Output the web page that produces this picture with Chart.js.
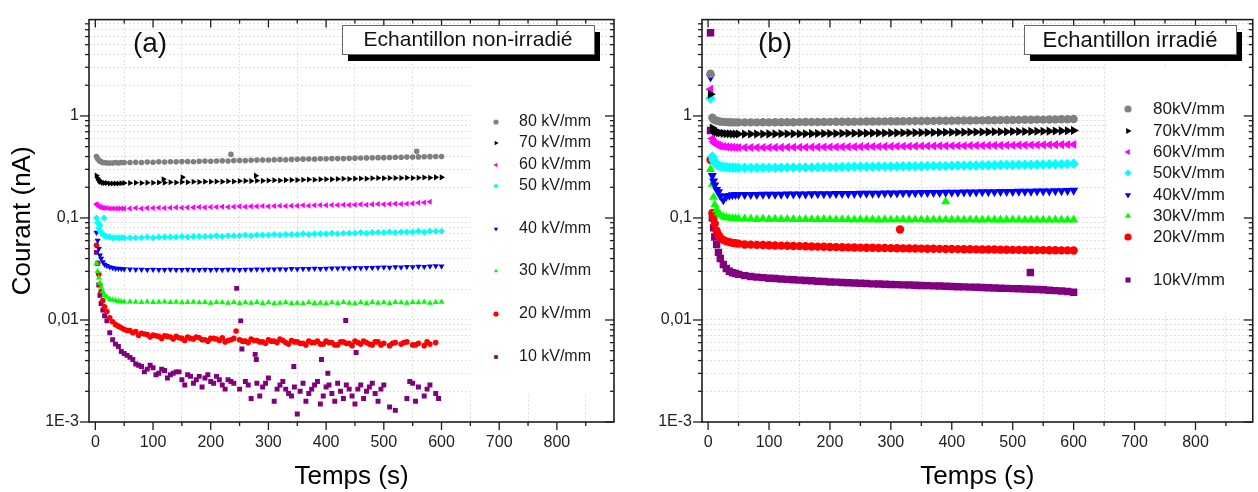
<!DOCTYPE html>
<html>
<head>
<meta charset="utf-8">
<script src="https://cdn.jsdelivr.net/npm/chart.js@4.4.1/dist/chart.umd.min.js"></script>
<style>
  html, body { margin: 0; padding: 0; background: #fff; }
  #wrap { position: relative; width: 1258px; height: 492px; overflow: hidden; }
  .panel { position: absolute; top: 0; width: 629px; height: 492px; }
</style>
</head>
<body>
<div id="wrap">
  <div class="panel" style="left:0"><canvas id="chartA" width="629" height="492"></canvas></div>
  <div class="panel" style="left:629px"><canvas id="chartB" width="629" height="492"></canvas></div>
</div>
<script>
// ---- Data ------------------------------------------------
const X_TICKS = [0, 50, 100, 150, 200, 250, 300, 350, 400, 450, 500, 550, 600, 650, 700, 750, 800, 850];
const Y_TICKS = [0.001, 0.002, 0.003, 0.004, 0.005, 0.006, 0.007, 0.008, 0.009,
  0.01, 0.02, 0.03, 0.04, 0.05, 0.06, 0.07, 0.08, 0.09,
  0.1, 0.2, 0.3, 0.4, 0.5, 0.6, 0.7, 0.8, 0.9, 1, 2, 3, 4, 5, 6, 7, 8];
const Y_MAJOR = [0.001, 0.01, 0.1, 1];
const Y_MAJOR_LABELS = ['1E-3', '0,01', '0,1', '1'];

const LABELS_A = ['80 kV/mm', '70 kV/mm', '60 kV/mm', '50 kV/mm', '40 kV/mm', '30 kV/mm', '20 kV/mm', '10 kV/mm'];
const LABELS_B = ['80kV/mm', '70kV/mm', '60kV/mm', '50kV/mm', '40kV/mm', '30kV/mm', '20kV/mm', '10kV/mm'];

// time (s) of the sampled points, non-irradiated sample
const TIME_A = [2, 4, 6, 8, 10, 13, 16, 20, 25, 30, 35, 40, 45, 50,
  60, 70, 80, 90, 100, 110, 120, 130, 140, 150, 160, 170, 180, 190, 200, 210, 220, 230, 240, 250,
  260, 270, 280, 290, 300, 310, 320, 330, 340, 350, 360, 370, 380, 390, 400, 410, 420, 430, 440, 450,
  460, 470, 480, 490, 500, 510, 520, 530, 540, 550, 560, 570, 580, 590, 600];

const A80 = [0.40, 0.38, 0.37, 0.36, 0.355, 0.35, 0.35, 0.345, 0.345, 0.345, 0.35, 0.345, 0.35, 0.35,
  0.35, 0.352, 0.35, 0.353, 0.352, 0.355, 0.353, 0.356, 0.355, 0.357,
  0.358, 0.356, 0.36, 0.361, 0.36, 0.362, 0.363, 0.362, 0.365, 0.366,
  0.365, 0.368, 0.369, 0.37, 0.37, 0.372, 0.373, 0.372, 0.375, 0.376,
  0.377, 0.378, 0.377, 0.38, 0.381, 0.382, 0.383, 0.382, 0.385, 0.386,
  0.387, 0.388, 0.389, 0.39, 0.39, 0.392, 0.393, 0.394, 0.395, 0.396,
  0.397, 0.398, 0.399, 0.40, 0.40];
const A70 = [0.26, 0.245, 0.235, 0.228, 0.225, 0.222, 0.22, 0.22, 0.218, 0.218, 0.218, 0.218, 0.219, 0.22,
  0.22, 0.221, 0.22, 0.222, 0.221, 0.223, 0.222, 0.224, 0.223, 0.225,
  0.224, 0.226, 0.225, 0.227, 0.226, 0.228, 0.227, 0.229, 0.228, 0.23,
  0.231, 0.23, 0.232, 0.231, 0.233, 0.234, 0.233, 0.235, 0.236, 0.235,
  0.237, 0.238, 0.237, 0.239, 0.24, 0.239, 0.241, 0.242, 0.241, 0.243,
  0.244, 0.243, 0.245, 0.246, 0.245, 0.246, 0.247, 0.246, 0.248, 0.247,
  0.248, 0.249, 0.248, 0.25, 0.25];
const A60 = [0.137, 0.133, 0.13, 0.128, 0.127, 0.126, 0.125, 0.125, 0.124, 0.124, 0.124, 0.124, 0.124, 0.124,
  0.124, 0.125, 0.124, 0.125, 0.125, 0.126, 0.125, 0.126, 0.127, 0.126,
  0.127, 0.127, 0.128, 0.127, 0.128, 0.128, 0.129, 0.128, 0.129, 0.13,
  0.129, 0.13, 0.13, 0.131, 0.13, 0.131, 0.132, 0.131, 0.132, 0.132,
  0.133, 0.132, 0.133, 0.134, 0.133, 0.134, 0.134, 0.135, 0.134, 0.135,
  0.136, 0.135, 0.136, 0.137, 0.136, 0.137, 0.138, 0.137, 0.138, 0.139,
  0.141, 0.142, 0.144, null, null];
const A50 = [0.1, 0.09, 0.08, 0.075, 0.072, 0.069, 0.067, 0.066, 0.065, 0.064, 0.064, 0.064, 0.064, 0.064,
  0.064, 0.064, 0.064, 0.065, 0.064, 0.065, 0.065, 0.065, 0.065, 0.066,
  0.065, 0.066, 0.066, 0.066, 0.066, 0.067, 0.066, 0.067, 0.067, 0.067,
  0.068, 0.067, 0.068, 0.068, 0.068, 0.069, 0.068, 0.069, 0.069, 0.069,
  0.07, 0.069, 0.07, 0.07, 0.07, 0.071, 0.07, 0.071, 0.071, 0.071,
  0.072, 0.071, 0.072, 0.072, 0.072, 0.073, 0.072, 0.073, 0.073, 0.073,
  0.074, 0.073, 0.074, 0.074, 0.074];
const A40 = [0.072, 0.06, 0.05, 0.043, 0.04, 0.037, 0.035, 0.034, 0.033, 0.0325, 0.032, 0.032, 0.0318, 0.0316,
  0.0315, 0.0312, 0.0313, 0.031, 0.0312, 0.0311, 0.031, 0.0312, 0.0311, 0.031,
  0.0312, 0.031, 0.0311, 0.0312, 0.031, 0.0312, 0.0311, 0.0313, 0.0312, 0.0311,
  0.0313, 0.0312, 0.0314, 0.0313, 0.0315, 0.0314, 0.0316, 0.0315, 0.0317, 0.0316,
  0.0318, 0.0317, 0.0319, 0.0318, 0.032, 0.0322, 0.0321, 0.0323, 0.0322, 0.0325,
  0.0324, 0.0326, 0.0325, 0.0327, 0.0328, 0.0327, 0.033, 0.0329, 0.0332, 0.0331,
  0.0335, 0.0333, 0.0336, 0.0338, 0.0336];
const A30 = [0.036, 0.03, 0.026, 0.023, 0.021, 0.019, 0.0175, 0.0168, 0.016, 0.0157, 0.0155, 0.0153, 0.0152, 0.0151,
  0.0151, 0.015, 0.0149, 0.0151, 0.0149, 0.015, 0.0151, 0.0149, 0.015, 0.0148,
  0.0149, 0.015, 0.0148, 0.0149, 0.0147, 0.0149, 0.0148, 0.0147, 0.0149, 0.0146,
  0.0148, 0.0147, 0.0149, 0.0146, 0.0148, 0.0145, 0.0147, 0.0148, 0.0146, 0.0147,
  0.0145, 0.0148, 0.0146, 0.0147, 0.0145, 0.0148, 0.0146, 0.0149, 0.0147, 0.0145,
  0.0148, 0.0146, 0.0149, 0.0147, 0.0148, 0.0146, 0.0149, 0.0148, 0.0147, 0.0149,
  0.0148, 0.015, 0.0147, 0.0149, 0.015];
const A20 = [0.054, 0.036, 0.028, 0.022, 0.019, 0.0155, 0.0135, 0.0121, 0.0105, 0.0096, 0.009, 0.0087, 0.0084, 0.0081,
  0.0079, 0.0077, 0.0074, 0.0072, 0.0071, 0.0069, 0.007, 0.0068, 0.0069, 0.0066,
  0.0068, 0.0065, 0.0067, 0.0064, 0.0066, 0.0065, 0.0067, 0.0063, 0.0066, 0.0064,
  0.0062, 0.0065, 0.0063, 0.0061, 0.0064, 0.0062, 0.0065, 0.006, 0.0063, 0.0061,
  0.0059, 0.0062, 0.006, 0.0058, 0.0062, 0.006, 0.0057, 0.0061, 0.0059, 0.0062,
  0.0058, 0.006, 0.0057, 0.0061, 0.0059, 0.0056, 0.006, 0.0058, 0.0061, 0.0057,
  0.0059, 0.0056, 0.0058, 0.006, null];
const A10 = [0.046, 0.036, 0.022, 0.0175, 0.0145, 0.0125, 0.011, 0.0098, 0.0075, 0.0064, 0.0058, 0.0055, 0.0049, 0.0047,
  0.0043, 0.0037, 0.0035, 0.0033, 0.0034, 0.003, 0.0032, 0.0029, 0.0031, 0.0026,
  0.0029, 0.0024, 0.0028, 0.0027, 0.0025, 0.0028, 0.0023, 0.0026, 0.0024, 0.0021,
  0.0025, 0.0017, 0.0024, 0.0022, 0.0027, 0.0016, 0.0023, 0.0021, 0.0018, 0.0012,
  0.0024, 0.0019, 0.0023, 0.0015, 0.0022, 0.0019, 0.0024, 0.0017, 0.0021, 0.0015,
  0.0023, 0.002, 0.0024, 0.0016, 0.0023, 0.0014, 0.0013, null, 0.0017, 0.0024,
  0.0022, 0.0018, 0.0023, 0.0019, null];

// isolated / extra scattered points [t, I]
const EXTRA_A80 = [[235, 0.42], [557, 0.45]];
const EXTRA_A70 = [[118, 0.24], [151, 0.25], [278, 0.26]];
const EXTRA_A50 = [[8, 0.085], [15, 0.1]];
const EXTRA_A20 = [[55, 0.0079], [65, 0.0075], [75, 0.0071], [85, 0.0073], [95, 0.0068], [105, 0.007], [115, 0.0066],
  [125, 0.0069], [135, 0.0065], [145, 0.0067], [155, 0.0063], [165, 0.0066], [175, 0.0068], [185, 0.0064],
  [195, 0.0062], [205, 0.0066], [215, 0.0063], [225, 0.0061], [235, 0.0064], [244, 0.0078], [255, 0.0062],
  [265, 0.006], [275, 0.0063], [285, 0.0061], [295, 0.0059], [305, 0.0062], [315, 0.006], [325, 0.0063],
  [335, 0.0058], [345, 0.0061], [355, 0.0059], [365, 0.0057], [375, 0.006], [385, 0.0062], [395, 0.0058],
  [405, 0.006], [415, 0.0057], [425, 0.0061], [435, 0.0059], [445, 0.0056], [455, 0.006], [465, 0.0062],
  [475, 0.0058], [485, 0.0061], [495, 0.0057], [515, 0.0059], [535, 0.006], [555, 0.0057], [575, 0.0061]];
const EXTRA_A10 = [[55, 0.0045], [65, 0.0041], [75, 0.0036], [85, 0.0031], [95, 0.0036], [105, 0.0029], [115, 0.0033],
  [125, 0.0027], [135, 0.003], [145, 0.0031], [155, 0.0023], [165, 0.0028], [175, 0.0026], [185, 0.0022],
  [195, 0.0029], [205, 0.0024], [215, 0.0026], [225, 0.0021], [235, 0.0025], [245, 0.0204], [252, 0.0098],
  [254, 0.0052], [265, 0.0023], [277, 0.0046], [279, 0.0041], [285, 0.0018], [295, 0.0024], [315, 0.0021],
  [325, 0.0025], [335, 0.0019], [344, 0.0035], [345, 0.0022], [355, 0.002], [365, 0.0016], [375, 0.0021],
  [385, 0.0025], [392, 0.0041], [395, 0.0018], [403, 0.003], [405, 0.0023], [415, 0.0016], [425, 0.002],
  [434, 0.0099], [435, 0.0023], [445, 0.0018], [452, 0.0048], [455, 0.0021], [465, 0.0017], [475, 0.0022],
  [485, 0.0019], [495, 0.0021], [545, 0.0025], [555, 0.0016], [575, 0.0021], [595, 0.0017]];

// irradiated sample
const TIME_B = [4, 7, 9, 11, 14, 17, 20, 25, 30, 35, 40, 45, 50,
  60, 70, 80, 90, 100, 110, 120, 130, 140, 150, 160, 170, 180, 190, 200, 210, 220, 230, 240, 250,
  260, 270, 280, 290, 300, 310, 320, 330, 340, 350, 360, 370, 380, 390, 400, 410, 420, 430, 440, 450,
  460, 470, 480, 490, 500, 510, 520, 530, 540, 550, 560, 570, 580, 590, 600];

const B80 = [2.59, 0.96, 0.93, 0.91, 0.9, 0.89, 0.88, 0.875, 0.87, 0.868, 0.866, 0.865, 0.865,
  0.865, 0.866, 0.865, 0.867, 0.866, 0.868, 0.867, 0.869, 0.868, 0.87,
  0.871, 0.872, 0.872, 0.874, 0.875, 0.876, 0.877, 0.878, 0.879, 0.88,
  0.881, 0.882, 0.884, 0.885, 0.886, 0.887, 0.889, 0.89, 0.891, 0.892,
  0.894, 0.895, 0.896, 0.898, 0.899, 0.9, 0.902, 0.903, 0.905, 0.906,
  0.908, 0.909, 0.911, 0.912, 0.914, 0.915, 0.917, 0.918, 0.92, 0.921,
  0.923, 0.925, 0.927, 0.93, 0.935];
const B70 = [1.63, 0.76, 0.73, 0.71, 0.7, 0.69, 0.68, 0.675, 0.67, 0.668, 0.666, 0.665, 0.665,
  0.665, 0.665, 0.666, 0.666, 0.667, 0.667, 0.668, 0.668, 0.669, 0.67,
  0.67, 0.671, 0.672, 0.672, 0.673, 0.674, 0.675, 0.676, 0.677, 0.678,
  0.678, 0.679, 0.68, 0.681, 0.682, 0.683, 0.684, 0.685, 0.686, 0.687,
  0.688, 0.689, 0.69, 0.691, 0.692, 0.693, 0.694, 0.695, 0.696, 0.697,
  0.698, 0.699, 0.7, 0.701, 0.703, 0.704, 0.705, 0.706, 0.707, 0.709,
  0.71, 0.712, 0.714, 0.716, 0.72];
const B60 = [1.83, 0.6, 0.56, 0.54, 0.525, 0.515, 0.508, 0.502, 0.498, 0.495, 0.493, 0.491, 0.49,
  0.49, 0.49, 0.49, 0.491, 0.491, 0.492, 0.492, 0.493, 0.493, 0.494,
  0.494, 0.495, 0.495, 0.496, 0.497, 0.497, 0.498, 0.499, 0.499, 0.5,
  0.501, 0.501, 0.502, 0.503, 0.503, 0.504, 0.505, 0.505, 0.506, 0.507,
  0.507, 0.508, 0.509, 0.509, 0.51, 0.511, 0.511, 0.512, 0.513, 0.513,
  0.514, 0.515, 0.515, 0.516, 0.517, 0.518, 0.518, 0.519, 0.52, 0.521,
  0.522, 0.523, 0.524, 0.525, 0.525];
const B50 = [1.48, 0.4, 0.37, 0.35, 0.335, 0.327, 0.322, 0.318, 0.315, 0.313, 0.312, 0.311, 0.31,
  0.31, 0.31, 0.31, 0.31, 0.311, 0.311, 0.311, 0.312, 0.312, 0.312,
  0.313, 0.313, 0.314, 0.314, 0.315, 0.315, 0.316, 0.316, 0.317, 0.317,
  0.318, 0.318, 0.319, 0.319, 0.32, 0.32, 0.321, 0.321, 0.322, 0.322,
  0.323, 0.323, 0.324, 0.324, 0.325, 0.326, 0.326, 0.327, 0.327, 0.328,
  0.329, 0.329, 0.33, 0.331, 0.331, 0.332, 0.333, 0.333, 0.334, 0.335,
  0.336, 0.336, 0.337, 0.338, 0.34];
const B40 = [2.4, 0.26, 0.23, 0.21, 0.19, 0.18, 0.165, 0.15, 0.162, 0.166, 0.168, 0.169, 0.169,
  0.169, 0.169, 0.169, 0.17, 0.17, 0.17, 0.17, 0.171, 0.171, 0.171,
  0.171, 0.172, 0.172, 0.172, 0.172, 0.173, 0.173, 0.173, 0.173, 0.174,
  0.174, 0.174, 0.174, 0.175, 0.175, 0.175, 0.176, 0.176, 0.176, 0.177,
  0.177, 0.177, 0.177, 0.178, 0.178, 0.178, 0.179, 0.179, 0.179, 0.18,
  0.18, 0.18, 0.181, 0.181, 0.181, 0.182, 0.182, 0.182, 0.183, 0.183,
  0.183, 0.184, 0.184, 0.185, 0.186];
const B30 = [0.3, 0.215, 0.16, 0.135, 0.12, 0.112, 0.107, 0.103, 0.101, 0.1, 0.099, 0.099, 0.098,
  0.098, 0.098, 0.097, 0.098, 0.097, 0.0975, 0.097, 0.0972, 0.097, 0.0968,
  0.097, 0.0968, 0.0965, 0.097, 0.0968, 0.0962, 0.0968, 0.0964, 0.0962, 0.0966,
  0.0962, 0.0964, 0.096, 0.0966, 0.0962, 0.0961, 0.0964, 0.096, 0.0963, 0.0961,
  0.096, 0.0962, 0.0959, 0.0961, 0.096, 0.0962, 0.0958, 0.0961, 0.096, 0.0958,
  0.0961, 0.0959, 0.096, 0.0958, 0.0961, 0.0959, 0.0957, 0.096, 0.0958, 0.0959,
  0.0957, 0.096, 0.0958, 0.0957, 0.0959];
const B20 = [0.37, 0.112, 0.1, 0.088, 0.075, 0.068, 0.064, 0.061, 0.059, 0.058, 0.057, 0.0565, 0.056,
  0.055, 0.0548, 0.0545, 0.0543, 0.054, 0.0538, 0.0536, 0.0534, 0.0532, 0.053,
  0.0528, 0.0526, 0.0524, 0.0522, 0.052, 0.0518, 0.0517, 0.0515, 0.0514, 0.0512,
  0.0511, 0.051, 0.0508, 0.0507, 0.0506, 0.0505, 0.0504, 0.0503, 0.0502, 0.0501,
  0.05, 0.0499, 0.0498, 0.0497, 0.0496, 0.0495, 0.0494, 0.0493, 0.0492, 0.0491,
  0.049, 0.049, 0.0489, 0.0488, 0.0487, 0.0487, 0.0486, 0.0485, 0.0484, 0.0484,
  0.0483, 0.0482, 0.0481, 0.0481, 0.048];
const B10 = [6.55, 0.1, 0.08, 0.065, 0.055, 0.046, 0.04, 0.035, 0.032, 0.03, 0.029, 0.0285, 0.028,
  0.0272, 0.0267, 0.0263, 0.026, 0.0257, 0.0255, 0.0252, 0.025, 0.0248, 0.0246,
  0.0244, 0.0242, 0.024, 0.0238, 0.0236, 0.0235, 0.0233, 0.0232, 0.023, 0.0229,
  0.0228, 0.0226, 0.0225, 0.0224, 0.0223, 0.0222, 0.0221, 0.022, 0.0219, 0.0218,
  0.0217, 0.0216, 0.0215, 0.0214, 0.0213, 0.0212, 0.0211, 0.021, 0.0209, 0.0208,
  0.0207, 0.0206, 0.0205, 0.0204, 0.0203, 0.0202, 0.0201, 0.02, 0.0199, 0.0198,
  0.0196, 0.0194, 0.0192, 0.019, 0.0187];

const EXTRA_B30 = [[390, 0.145]];
const EXTRA_B20 = [[315, 0.077]];
const EXTRA_B10 = [[4, 0.72], [529, 0.0292]];

// ---- Styles ----------------------------------------------
const COLORS = ['#808080', '#000000', '#ff00ff', '#00ffff', '#0000ff', '#00ff00', '#ff0000', '#800080'];
const MARKERS = [
  { style: 'circle', rot: 0 },
  { style: 'triangle', rot: 90 },
  { style: 'triangle', rot: -90 },
  { style: 'rectRot', rot: 0 },
  { style: 'triangle', rot: 180 },
  { style: 'triangle', rot: 0 },
  { style: 'circle', rot: 0 },
  { style: 'rect', rot: 0 },
];
const FONT = '"Liberation Sans", Arial, sans-serif';
Chart.defaults.font.family = FONT;

function makeDatasets(time, series, extras, labels, radius) {
  return series.map((vals, i) => {
    const pts = time.map((t, k) => ({ x: t, y: vals[k] })).filter((p) => p.y != null);
    (extras[i] || []).forEach((p) => pts.push({ x: p[0], y: p[1] }));
    return {
      label: labels[i],
      data: pts,
      showLine: false,
      pointStyle: MARKERS[i].style,
      pointRotation: MARKERS[i].rot,
      // triangles/squares read smaller than circles at equal radius
      pointRadius: MARKERS[i].style === 'circle' ? radius : radius * 1.25,
      pointBorderWidth: 0,
      backgroundColor: COLORS[i],
      borderColor: COLORS[i],
    };
  });
}

// ---- Decorations: frame, ticks, legend, note box -----------
function line(ctx, x1, y1, x2, y2) {
  ctx.beginPath();
  ctx.moveTo(x1, y1);
  ctx.lineTo(x2, y2);
  ctx.stroke();
}

const panelDecor = {
  id: 'panelDecor',
  beforeDatasetsDraw(chart, args, o) {
    const ctx = chart.ctx;
    const [mx, my, mw, mh] = o.mask;
    ctx.save();
    ctx.fillStyle = '#ffffff';
    ctx.fillRect(mx, my, mw, mh);
    ctx.restore();
  },
  afterDraw(chart, args, o) {
    const ctx = chart.ctx;
    const a = chart.chartArea;
    const xs = chart.scales.x, ys = chart.scales.y;
    ctx.save();
    ctx.strokeStyle = '#1e1e1e';
    ctx.lineWidth = 1.6;
    ctx.strokeRect(a.left, a.top, a.right - a.left, a.bottom - a.top);
    ctx.lineWidth = 1.3;
    xs.ticks.forEach((t) => {
      const px = xs.getPixelForValue(t.value);
      const len = t.value % 100 === 0 ? 8 : 4;
      line(ctx, px, a.bottom, px, a.bottom + len);
      line(ctx, px, a.top, px, a.top + len);
    });
    ys.ticks.forEach((t) => {
      const py = ys.getPixelForValue(t.value);
      const len = Y_MAJOR.indexOf(t.value) >= 0 ? 9 : 4;
      line(ctx, a.left - len, py, a.left, py);
      line(ctx, a.right - len, py, a.right, py);
    });

    // legend
    ctx.textAlign = 'left';
    ctx.textBaseline = 'middle';
    chart.data.datasets.forEach((ds, i) => {
      const yy = o.legendY[i];
      ctx.fillStyle = ds.backgroundColor;
      Chart.helpers.drawPoint(ctx, {
        pointStyle: ds.pointStyle, rotation: ds.pointRotation, radius: o.legendR, borderWidth: 0,
      }, o.legendX, yy);
      ctx.fillStyle = '#1a1a1a';
      ctx.font = o.legendFont + 'px ' + FONT;
      ctx.fillText(ds.label, o.legendTextX, yy);
    });

    // note box with shadow
    const [bx, by, bw, bh] = o.box;
    ctx.fillStyle = '#000';
    ctx.fillRect(bx + 6, by + 7, bw, bh);
    ctx.fillStyle = '#fff';
    ctx.fillRect(bx, by, bw, bh);
    ctx.strokeStyle = '#666';
    ctx.lineWidth = 1;
    ctx.strokeRect(bx + 0.5, by + 0.5, bw, bh);
    ctx.fillStyle = '#111';
    ctx.textAlign = 'center';
    ctx.font = o.boxFont + 'px ' + FONT;
    ctx.fillText(o.boxText, bx + bw / 2, by + bh / 2 + 1);

    // panel tag
    ctx.font = '28px ' + FONT;
    ctx.fillText(o.tag, o.tagPos[0], o.tagPos[1]);
    ctx.restore();
  },
};

function panelOptions(cfg) {
  return {
    responsive: false,
    animation: false,
    events: [],
    layout: { padding: { top: 14, right: cfg.padRight, left: 0, bottom: 0 } },
    scales: {
      x: {
        type: 'linear',
        min: cfg.xMin,
        max: cfg.xMax,
        afterBuildTicks: (s) => { s.ticks = X_TICKS.map((v) => ({ value: v })); },
        afterFit: (s) => { s.height = 70; },
        ticks: {
          autoSkip: false, maxRotation: 0, padding: 11, color: '#222', font: { size: 16 },
          callback: (v) => (v % 100 === 0 ? String(v) : ''),
        },
        grid: {
          drawTicks: false,
          lineWidth: 1,
          color: (c) => (c.tick && c.tick.value % 100 !== 0 ? '#dedede' : 'rgba(0,0,0,0)'),
        },
        border: { display: false, dash: [2, 2] },
        title: {
          display: true, text: 'Temps (s)', color: '#000', font: { size: 26 },
          padding: { top: 0, bottom: 0 },
        },
      },
      y: {
        type: 'logarithmic',
        min: 0.001,
        max: 8.8,
        afterBuildTicks: (s) => { s.ticks = Y_TICKS.map((v) => ({ value: v })); },
        afterFit: (s) => { s.width = cfg.yWidth; },
        ticks: {
          autoSkip: false, padding: 10, color: '#222', font: { size: 16 },
          callback: (v) => {
            const k = Y_MAJOR.indexOf(v);
            return k < 0 ? '' : Y_MAJOR_LABELS[k];
          },
        },
        grid: { drawTicks: false, lineWidth: 1, color: '#e0e0e0' },
        border: { display: false, dash: [2, 2] },
        title: cfg.yTitle
          ? { display: true, text: 'Courant (nA)', color: '#000', font: { size: 26 }, padding: { top: 7, bottom: 0 } }
          : { display: false },
      },
    },
    plugins: {
      legend: { display: false },
      tooltip: { enabled: false },
      panelDecor: cfg.decor,
    },
  };
}

new Chart(document.getElementById('chartA'), {
  type: 'scatter',
  data: {
    datasets: makeDatasets(TIME_A, [A80, A70, A60, A50, A40, A30, A20, A10],
      [EXTRA_A80, EXTRA_A70, [], EXTRA_A50, [], [], EXTRA_A20, EXTRA_A10], LABELS_A, 2.8),
  },
  options: panelOptions({
    xMin: -11, xMax: 899, yWidth: 89, padRight: 15, yTitle: true,
    decor: {
      mask: [470, 58, 143, 335],
      legendX: 496, legendTextX: 519, legendR: 2.6, legendFont: 16,
      legendY: [122, 143, 165, 186, 229, 271, 314, 357],
      box: [342, 25, 252, 29], boxText: 'Echantillon non-irradié', boxFont: 21,
      tag: '(a)', tagPos: [150, 44],
    },
  }),
  plugins: [panelDecor],
});

new Chart(document.getElementById('chartB'), {
  type: 'scatter',
  data: {
    datasets: makeDatasets(TIME_B, [B80, B70, B60, B50, B40, B30, B20, B10],
      [[], [], [], [], [], EXTRA_B30, EXTRA_B20, EXTRA_B10], LABELS_B, 4.2),
  },
  options: panelOptions({
    xMin: -10, xMax: 894, yWidth: 73, padRight: 3, yTitle: false,
    decor: {
      mask: [478, 66, 147, 246],
      legendX: 499, legendTextX: 524, legendR: 3.6, legendFont: 17,
      legendY: [109, 131, 152, 173, 195, 216, 237, 280],
      box: [395, 25, 212, 29], boxText: 'Echantillon irradié', boxFont: 22,
      tag: '(b)', tagPos: [146, 44],
    },
  }),
  plugins: [panelDecor],
});
</script>
</body>
</html>
